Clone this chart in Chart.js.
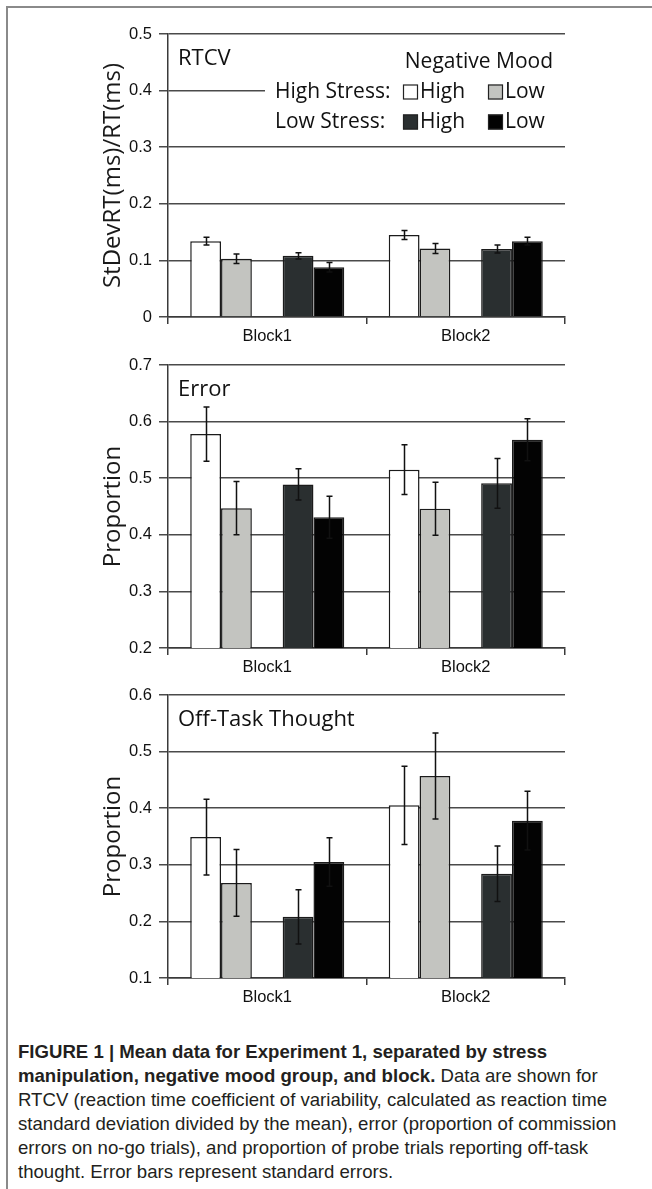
<!DOCTYPE html>
<html>
<head>
<meta charset="utf-8">
<script src="https://cdn.jsdelivr.net/npm/chart.js@4.4.1/dist/chart.umd.min.js"></script>
<style>
    html, body { margin: 0; padding: 0; background: #fff; overflow: hidden; }
    body { width: 652px; height: 1189px; position: relative; }
    .frame {
        position: absolute; left: 6px; top: 6px; width: 700px; height: 1250px;
        border-left: 2px solid #8a8a8a; border-top: 2px solid #8a8a8a;
    }
    canvas { position: absolute; left: 0; }
    #rtcvChart { top: 0; }
    #errorChart { top: 331px; }
    #offTaskChart { top: 661px; }
    .caption {
        position: absolute; left: 18px; top: 1040px;
        font-family: 'Liberation Sans', Arial, sans-serif; font-size: 18.6px;
        line-height: 24px; color: #231f20; white-space: nowrap;
    }
    .caption b { font-weight: bold; }
</style>
</head>
<body>
<div class="frame"></div>
<canvas id="rtcvChart" width="652" height="350"></canvas>
<canvas id="errorChart" width="652" height="350"></canvas>
<canvas id="offTaskChart" width="652" height="350"></canvas>
<div class="caption">
    <div><b>FIGURE 1 | Mean data for Experiment 1, separated by stress</b></div>
    <div><b>manipulation, negative mood group, and block.</b> Data are shown for</div>
    <div>RTCV (reaction time coefficient of variability, calculated as reaction time</div>
    <div>standard deviation divided by the mean), error (proportion of commission</div>
    <div>errors on no-go trials), and proportion of probe trials reporting off-task</div>
    <div>thought. Error bars represent standard errors.</div>
</div>
<script>
// categories and groups (order: HS/High, HS/Low, LS/High, LS/Low)
const blocks = ['Block1', 'Block2'];
const groupNames = ['High Stress: High', 'High Stress: Low', 'Low Stress: High', 'Low Stress: Low'];
const groupColors = ['#ffffff', '#c3c4c0', '#2a2f30', '#030303'];

// RTCV panel
const rtcvMeans = [[0.134, 0.145], [0.103, 0.121], [0.108, 0.120], [0.088, 0.134]];
const rtcvErrors = [[0.007, 0.008], [0.0085, 0.009], [0.0055, 0.007], [0.0085, 0.007]];

// Error panel
const errorMeans = [[0.578, 0.515], [0.447, 0.446], [0.489, 0.491], [0.431, 0.568]];
const errorErrors = [[0.048, 0.044], [0.047, 0.047], [0.0275, 0.044], [0.037, 0.037]];

// Off-task thought panel
const offTaskMeans = [[0.349, 0.405], [0.268, 0.457], [0.208, 0.284], [0.305, 0.378]];
const offTaskErrors = [[0.067, 0.069], [0.059, 0.076], [0.048, 0.049], [0.043, 0.052]];

const titleFont = "'Open Sans', 'DejaVu Sans', sans-serif";
const tickFont = "'Liberation Sans', Arial, sans-serif";
const lineColor = '#3a3a3a';

// draws the standard error whiskers from the dataset's errors array
const errorBarPlugin = {
    id: 'errorBars',
    afterDatasetsDraw(chart) {
        const ctx = chart.ctx;
        const yScale = chart.scales.y;
        chart.data.datasets.forEach((ds, di) => {
            if (!ds.errors) return;
            const meta = chart.getDatasetMeta(di);
            meta.data.forEach((bar, j) => {
                const v = ds.data[j];
                const e = ds.errors[j];
                if (v == null || e == null) return;
                const x = Math.round(bar.x) + 0.5;
                const yTop = yScale.getPixelForValue(v + e);
                const yBot = yScale.getPixelForValue(v - e);
                ctx.save();
                ctx.strokeStyle = '#111';
                ctx.lineWidth = 1.5;
                ctx.beginPath();
                ctx.moveTo(x, yTop);
                ctx.lineTo(x, yBot);
                ctx.moveTo(x - 3, yTop);
                ctx.lineTo(x + 3, yTop);
                ctx.moveTo(x - 3, yBot);
                ctx.lineTo(x + 3, yBot);
                ctx.stroke();
                ctx.restore();
            });
        });
    }
};

// panel name and (for the first panel) the group key
const panelTextPlugin = {
    id: 'panelText',
    afterDraw(chart) {
        const opts = chart.options.plugins.panelText;
        if (!opts) return;
        const ctx = chart.ctx;
        const area = chart.chartArea;
        ctx.save();
        ctx.fillStyle = '#111';
        ctx.textBaseline = 'middle';
        ctx.font = "22px " + titleFont;
        ctx.fillText(opts.label, area.left + 10, area.top + 25);

        if (opts.legend) {
            // white panel behind the key hides the gridline
            ctx.fillStyle = '#fff';
            ctx.fillRect(area.left + 97, area.top + 11, area.right - area.left - 97, 92);
            ctx.fillStyle = '#111';
            ctx.font = "21px " + titleFont;
            ctx.textAlign = 'right';
            ctx.fillText('Negative Mood', area.right - 12, area.top + 28);
            ctx.textAlign = 'left';
            const rows = ['High Stress:', 'Low Stress:'];
            const names = ['High', 'Low'];
            rows.forEach((row, r) => {
                const yc = area.top + 58 + r * 30;
                ctx.fillStyle = '#111';
                ctx.fillText(row, area.left + 107, yc);
                names.forEach((n, c) => {
                    const bx = area.left + 235 + c * 85;
                    ctx.fillStyle = groupColors[r * 2 + c];
                    ctx.fillRect(bx, yc - 7.5, 15, 15);
                    ctx.strokeStyle = '#222';
                    ctx.lineWidth = 1.2;
                    ctx.strokeRect(bx + 0.5, yc - 7, 14, 14);
                    ctx.fillStyle = '#111';
                    ctx.fillText(n, bx + 17, yc);
                });
            });
        }
        ctx.restore();
    }
};

function buildDatasets(means, errors) {
    const sets = means.map((vals, i) => ({
        label: groupNames[i],
        data: vals,
        errors: errors[i],
        backgroundColor: groupColors[i],
        borderColor: '#1b1b1b',
        borderWidth: 1.5
    }));
    // empty slot between the stress groups
    sets.splice(2, 0, { label: 'spacer', data: [null, null] });
    return sets;
}

function renderPanel(id, means, errors, yMin, yMax, yTitle, label, legend) {
    const ctx = document.getElementById(id).getContext('2d');
    return new Chart(ctx, {
        type: 'bar',
        data: { labels: blocks, datasets: buildDatasets(means, errors) },
        plugins: [errorBarPlugin, panelTextPlugin],
        options: {
            responsive: false,
            animation: false,
            devicePixelRatio: 1,
            datasets: { bar: { categoryPercentage: 0.776, barPercentage: 1.0 } },
            layout: { padding: { left: 95, right: 87, top: 34, bottom: 0 } },
            plugins: {
                legend: { display: false },
                tooltip: { enabled: false },
                panelText: { label: label, legend: legend }
            },
            scales: {
                x: {
                    afterFit(scale) { scale.height = 33; },
                    grid: {
                        display: true,
                        offset: true,
                        drawOnChartArea: false,
                        drawTicks: true,
                        tickLength: 7,
                        color: lineColor,
                        lineWidth: 1.5
                    },
                    border: { display: true, color: lineColor, width: 1.5 },
                    ticks: {
                        color: '#111',
                        padding: 3,
                        font: { family: tickFont, size: 16.5 }
                    }
                },
                y: {
                    min: yMin,
                    max: yMax,
                    afterFit(scale) { scale.width = 73; },
                    grid: {
                        color: '#4a4a4a',
                        lineWidth: 1.5,
                        tickLength: 9,
                        drawTicks: true
                    },
                    border: { display: true, color: lineColor, width: 1.5 },
                    ticks: {
                        stepSize: 0.1,
                        color: '#111',
                        padding: 7,
                        font: { family: tickFont, size: 16.5 },
                        callback: function(value) {
                            const v = Math.round(value * 10) / 10;
                            return v === 0 ? '0' : v.toFixed(1);
                        }
                    },
                    title: {
                        display: true,
                        text: yTitle,
                        color: '#1a1a1a',
                        padding: 4,
                        font: { family: titleFont, size: 24 }
                    }
                }
            }
        }
    });
}

renderPanel('rtcvChart', rtcvMeans, rtcvErrors, 0, 0.5, 'StDevRT(ms)/RT(ms)', 'RTCV', true);
renderPanel('errorChart', errorMeans, errorErrors, 0.2, 0.7, 'Proportion', 'Error', false);
renderPanel('offTaskChart', offTaskMeans, offTaskErrors, 0.1, 0.6, 'Proportion', 'Off-Task Thought', false);
</script>
</body>
</html>
